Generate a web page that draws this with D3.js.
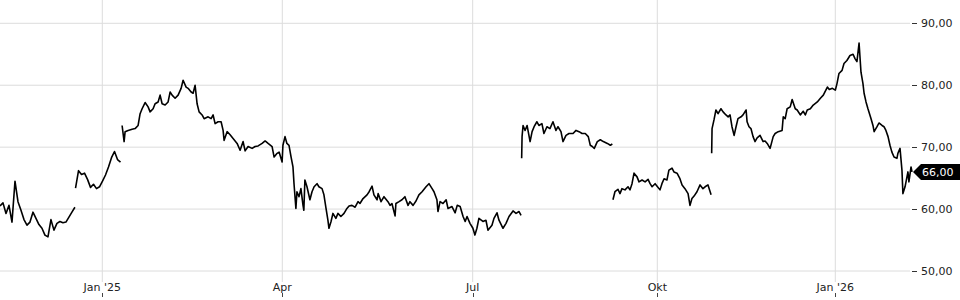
<!DOCTYPE html>
<html>
<head>
<meta charset="utf-8">
<script src="https://cdn.jsdelivr.net/npm/d3@7"></script>
<style>
  body { margin: 0; background: #fff; }
  svg { display: block; font-family: "DejaVu Sans", sans-serif; }
</style>
</head>
<body>
<svg id="chart" width="960" height="300"></svg>
<script>
// price readings: [days since 2025-01-01, value]; each array is one unbroken run
const run1 = [[-51.2,60.5],[-49.7,61.0],[-48.2,59.3],[-46.7,60.6],[-45.2,57.9],[-43.7,64.5],[-42.2,61.2],
  [-40.7,59.8],[-39.2,58.3],[-37.7,57.4],[-36.2,57.9],[-34.7,59.5],[-33.2,58.5],[-31.7,57.5],[-30.2,56.9],
  [-28.7,55.8],[-27.2,55.5],[-25.7,58.3],[-24.2,56.6],[-22.7,57.7],[-21.2,58.0],[-19.7,57.8],[-18.2,57.9],
  [-16.7,58.7],[-15.2,59.5],[-13.7,60.3]];
const run2 = [[-13.4,63.4],[-11.9,66.2],[-10.4,65.6],[-8.9,65.8],[-7.4,64.8],[-5.9,63.5],[-4.4,64.0],
  [-2.9,63.3],[-1.4,63.6],[0.1,64.5],[1.6,65.5],[3.1,66.8],[4.6,68.3],[6.1,69.3],[7.6,68.0],[9.1,67.6]];
const run3 = [[9.9,73.5],[10.9,70.9],[11.4,72.5],[12.9,72.7],[14.9,72.9],[16.4,73.0],[17.9,73.5],[18.9,75.4],
  [19.9,76.2],[21.4,77.2],[22.9,76.5],[23.9,75.7],[25.4,76.2],[26.4,77.0],[27.9,77.3],[28.9,78.4],[29.9,77.0],
  [31.4,76.8],[32.9,77.3],[33.9,78.9],[34.9,78.4],[36.4,77.9],[37.9,78.4],[39.4,79.5],[40.4,80.8],[41.9,79.7],
  [42.9,79.5],[44.4,78.9],[45.4,78.7],[46.4,80.0],[47.4,77.0],[48.4,75.7],[49.9,75.2],[50.9,74.6],[52.9,74.9],
  [54.4,74.6],[55.4,75.2],[56.4,73.8],[57.9,74.1],[59.4,74.1],[60.4,72.7],[60.9,71.1],[62.4,72.5],[63.9,72.0],
  [65.4,71.4],[67.4,70.6],[68.9,69.5],[70.4,70.9],[71.4,69.4],[72.9,70.1],[74.9,69.8],[76.4,70.1],[77.9,70.2],
  [79.9,70.6],[81.4,71.0],[82.9,70.6],[84.9,70.1],[85.9,68.4],[87.4,69.0],[88.4,69.2],[89.9,67.6],[90.3,70.3],
  [91.3,71.7],[92.2,70.6],[93.2,70.3],[94.2,68.4],[95.1,66.8],[95.6,64.1],[96.5,60.1],[97.0,62.8],[98.0,62.0],
  [98.9,63.3],[99.9,60.6],[100.3,59.8],[100.8,64.7],[101.8,63.6],[103.2,61.5],[104.2,62.8],[105.2,63.6],
  [106.6,64.1],[107.5,63.6],[109.0,63.3],[109.9,62.3],[110.9,60.1],[111.8,58.2],[112.3,56.9],[113.3,58.0],
  [114.2,59.3],[115.6,58.5],[116.6,59.3],[118.0,58.8],[119.5,59.3],[120.9,60.1],[121.9,60.5],[123.3,60.6],
  [124.8,60.3],[126.2,61.2],[127.1,60.9],[128.6,61.7],[130.5,62.3],[131.5,62.8],[132.9,63.7],[133.8,62.3],
  [135.3,61.5],[135.8,62.5],[137.2,61.2],[138.6,62.0],[140.5,61.2],[141.5,60.6],[142.4,60.9],[143.9,58.9],
  [144.3,60.9],[145.8,61.2],[147.2,61.5],[148.6,62.0],[150.1,60.6],[151.0,61.2],[152.5,60.6],[153.9,61.3],
  [155.3,62.3],[156.8,62.8],[158.7,63.6],[160.1,64.1],[161.6,63.3],[162.5,62.8],[163.9,61.5],[164.4,59.6],
  [165.4,61.2],[166.8,60.9],[168.3,61.5],[169.2,60.1],[171.1,60.4],[172.6,59.4],[173.6,60.6],[175.0,60.4],
  [176.4,58.8],[177.4,58.0],[178.3,58.8],[179.7,57.7],[181.1,56.9],[182.1,55.8],[183.1,56.9],[184.1,58.5],
  [186.1,58.0],[187.6,58.2],[188.6,56.6],[190.6,57.4],[191.6,58.5],[193.1,59.4],[194.1,58.2],[196.1,56.9],
  [197.6,57.7],[199.1,58.8],[201.1,59.7],[202.6,59.3],[204.1,59.6],[205.1,59.0]];
const run4 = [[205.4,68.2],[205.6,71.7],[206.1,73.5],[207.1,72.7],[208.1,73.5],[209.6,70.9],[210.6,72.5],
  [211.6,73.3],[213.0,74.1],[214.0,73.5],[215.5,73.8],[216.5,72.2],[218.0,73.3],[219.5,73.0],[221.0,74.1],
  [222.5,72.7],[223.5,73.3],[225.0,72.5],[226.0,70.9],[227.5,71.9],[229.0,72.2],[231.0,72.2],[232.5,72.7],
  [234.0,72.5],[235.5,72.2],[237.1,72.2],[238.6,71.7],[239.6,70.3],[240.6,70.1],[241.6,69.8],[243.1,70.9],
  [244.6,71.2],[246.1,70.9],[248.1,70.6],[249.6,70.3],[250.6,70.5]];
const run5 = [[250.9,61.5],[251.9,62.8],[253.4,63.2],[254.4,62.5],[255.4,63.3],[256.9,63.1],[258.4,63.6],
  [259.4,63.1],[260.4,64.1],[261.4,65.8],[262.9,65.2],[263.9,64.4],[265.4,64.7],[266.9,64.4],[268.4,64.8],
  [269.4,64.1],[270.4,63.6],[271.9,64.1],[272.9,63.7],[274.4,63.1],[275.4,64.1],[276.5,64.9],[278.0,64.7],
  [279.0,66.3],[280.6,66.6],[281.6,66.0],[283.2,65.8],[284.7,64.9],[285.8,63.9],[287.3,63.3],[288.9,62.5],
  [289.9,60.6],[290.9,61.7],[292.0,62.1],[293.5,62.8],[295.1,63.9],[296.6,63.3],[297.7,63.6],[299.2,63.9],
  [300.8,62.3]];
const run6 = [[301.1,69.0],[301.3,73.0],[302.3,74.4],[303.3,76.0],[304.4,75.4],[305.9,76.2],[307.0,75.7],
  [308.5,75.2],[309.6,74.9],[310.6,75.2],[311.6,73.3],[312.7,71.9],[313.7,73.3],[314.7,74.6],[316.3,74.9],
  [317.3,75.2],[318.9,76.0],[319.4,74.1],[320.4,73.3],[321.4,73.0],[322.5,71.7],[323.5,70.9],[324.6,71.5],
  [326.1,71.9],[327.7,70.9],[328.7,71.0],[329.8,70.6],[331.3,69.8],[332.9,71.7],[333.9,72.2],[335.5,72.5],
  [337.5,72.7],[338.1,74.9],[339.1,74.6],[340.1,76.2],[341.7,76.5],[342.7,77.7],[344.3,76.2],[345.3,76.0],
  [346.9,75.2],[348.4,75.8],[349.5,75.2],[350.5,76.0],[352.1,76.2],[353.6,76.8],[355.7,77.3],[357.3,77.9],
  [358.8,78.4],[360.9,79.7],[361.9,79.3],[363.5,79.5],[365.0,79.2],[365.9,80.3],[366.9,81.9],[368.5,82.4],
  [369.5,83.5],[371.0,84.0],[372.6,84.8],[374.2,85.0],[375.2,84.3],[376.2,83.8],[377.3,86.8],[378.3,82.1],
  [379.3,80.3],[379.9,78.7],[380.9,77.3],[381.9,76.2],[383.5,74.6],[384.5,73.5],[385.1,72.5],[386.6,73.3],
  [387.6,73.9],[389.2,73.5],[390.2,73.3],[391.2,72.7],[392.3,71.7],[393.3,70.3],[394.3,69.2],[395.4,68.4],
  [396.9,68.2],[397.4,69.0],[398.5,69.8],[399.5,66.3],[400.0,62.5],[401.1,63.6],[402.1,65.2],[402.6,66.0],
  [403.1,64.4],[404.2,66.8],[404.7,66.0]];
const runs = [run1, run2, run3, run4, run5, run6];

const xTickDates = ["2025-01-01", "2025-04-01", "2025-07-01", "2025-10-01", "2026-01-01"];
const xTickLabels = ["Jan '25", "Apr", "Jul", "Okt", "Jan '26"];
const yTicks = [50, 60, 70, 80, 90];
const lastValue = 66.0;

// layout
const svg = d3.select("#chart");
const plotRight = 912, plotBottom = 282;
const day0 = Date.UTC(2025, 0, 1);
const toDate = d => new Date(day0 + d * 864e5);
const parse = d3.utcParse("%Y-%m-%d");
const tickDates = xTickDates.map(parse);

// axis stops: left edge, the five quarter ticks, right edge
const x = d3.scaleUtc()
    .domain([toDate(run1[0][0]), ...tickDates, toDate(run6[run6.length - 1][0])])
    .range([0, 102.3, 282.3, 472.7, 657.3, 835.3, plotRight]);
const y = d3.scaleLinear().domain([50, 90]).range([271, 23.3]);

const fmt = d3.formatLocale({decimal: ",", thousands: ".", grouping: [3], currency: ["", " €"]}).format(".2f");

// grid
svg.append("g").selectAll("line").data(yTicks).enter().append("line")
    .attr("x1", 0).attr("x2", 910)
    .attr("y1", d => y(d)).attr("y2", d => y(d))
    .attr("stroke", "#dcdcdc").attr("stroke-width", 1);
svg.append("g").selectAll("line").data(tickDates).enter().append("line")
    .attr("x1", d => x(d)).attr("x2", d => x(d))
    .attr("y1", 0).attr("y2", plotBottom)
    .attr("stroke", "#dcdcdc").attr("stroke-width", 1);

// x axis labels and small ticks
const xa = svg.append("g").attr("font-size", 11).attr("fill", "#222");
xa.selectAll("text").data(tickDates).enter().append("text")
    .attr("x", d => x(d)).attr("y", 291)
    .attr("text-anchor", "middle")
    .text((d, i) => xTickLabels[i]);
xa.selectAll("line").data(tickDates).enter().append("line")
    .attr("x1", d => Math.round(x(d)) + 0.5).attr("x2", d => Math.round(x(d)) + 0.5)
    .attr("y1", 293).attr("y2", 297)
    .attr("stroke", "#444");

// y axis on the right
const ya = svg.append("g").attr("font-size", 11).attr("fill", "#222");
ya.selectAll("line").data(yTicks).enter().append("line")
    .attr("x1", 912).attr("x2", 917)
    .attr("y1", d => Math.round(y(d)) + 0.5).attr("y2", d => Math.round(y(d)) + 0.5)
    .attr("stroke", "#333");
ya.selectAll("text").data(yTicks).enter().append("text")
    .attr("x", 921).attr("y", d => y(d) + 4)
    .text(d => fmt(d));

// price line
const line = d3.line().x(d => x(toDate(d[0]))).y(d => y(d[1]));
svg.append("g").selectAll("path").data(runs).enter().append("path")
    .attr("d", line)
    .attr("fill", "none")
    .attr("stroke", "#000")
    .attr("stroke-width", 1.6)
    .attr("stroke-linejoin", "round");

// last value marker
const ly = y(lastValue);
svg.append("path")
    .attr("d", `M913,${ly} L921,${ly - 8} L960,${ly - 8} L960,${ly + 8} L921,${ly + 8} Z`)
    .attr("fill", "#000");
svg.append("text")
    .attr("x", 922).attr("y", ly + 4)
    .attr("font-size", 11).attr("fill", "#fff")
    .text(fmt(lastValue));
</script>
</body>
</html>
